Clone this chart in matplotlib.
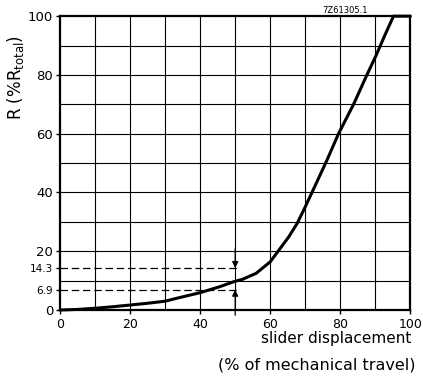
import numpy as np
import matplotlib.pyplot as plt

# curve
slider = [0, 5, 10, 15, 20, 25, 30, 34, 40, 45.5, 50, 52, 56, 60, 62.5, 65.3, 67.7,
          70, 72.9, 76.2, 79.5, 83.8, 87.6, 90.1, 92.8, 95.2, 100]
resist = [0, 0.2, 0.6, 1.1, 1.7, 2.3, 3.0, 4.2, 5.9, 7.9, 9.8, 10.4, 12.5, 16.4, 20.4, 24.9, 29.5,
          35.1, 42.5, 51.0, 60.0, 70.0, 80.0, 86.3, 93.7, 100, 100]

x_ticks = [0, 20, 40, 60, 80, 100]
y_ticks_big = [0, 20, 40, 60, 80, 100]
y_ticks_small = [6.9, 14.3]

fig = plt.figure(figsize=(4.23, 3.76), dpi=100)
ax = fig.add_axes([0.142, 0.1755, 0.828, 0.7815])

ax.set_xlim(0, 100)
ax.set_ylim(0, 100)

# grid every 10
for v in range(10, 100, 10):
    ax.axvline(v, color="black", lw=0.8, zorder=1)
    ax.axhline(v, color="black", lw=0.8, zorder=1)

ax.plot(slider, resist, color="black", lw=2.2, solid_joinstyle="round",
        solid_capstyle="round", zorder=3, clip_on=False)

# dashed markers for 6.9 and 14.3
for yv in y_ticks_small:
    ax.plot([0, 51.5], [yv, yv], color="black", lw=0.9, dashes=(6, 3), zorder=2)

# arrows at 50 %
ax.annotate("", xy=(50, 14.3), xytext=(50, 20.8),
            arrowprops=dict(arrowstyle="-|>", color="black", lw=0.9, mutation_scale=9,
                            shrinkA=0, shrinkB=0),
            annotation_clip=False)
ax.annotate("", xy=(50, 6.9), xytext=(50, -1.8),
            arrowprops=dict(arrowstyle="-|>", color="black", lw=0.9, mutation_scale=9,
                            shrinkA=0, shrinkB=0),
            annotation_clip=False)

ax.set_xticks(x_ticks)
ax.set_xticklabels([str(v) for v in x_ticks], fontsize=9)
yt = y_ticks_big + y_ticks_small
ax.set_yticks(yt)
labels = ax.set_yticklabels([str(v) for v in yt])
for lab, v in zip(labels, yt):
    lab.set_fontsize(9.5 if v in y_ticks_big else 7.5)
ax.tick_params(direction="out", length=3, width=1, pad=2)
ax.tick_params(axis="x", pad=3)

for s in ax.spines.values():
    s.set_linewidth(1.6)

fig.text(0.036, 0.795, r"R (%R$_{\mathrm{total}}$)", rotation=90, ha="center", va="center", fontsize=12)
fig.text(0.972, 0.1, "slider displacement", ha="right", va="center", fontsize=11)
fig.text(0.982, 0.03, "(% of mechanical travel)", ha="right", va="center", fontsize=11.5)
fig.text(0.87, 0.972, "7Z61305.1", ha="right", va="center", fontsize=6)

fig.savefig("out.png", dpi=100)
